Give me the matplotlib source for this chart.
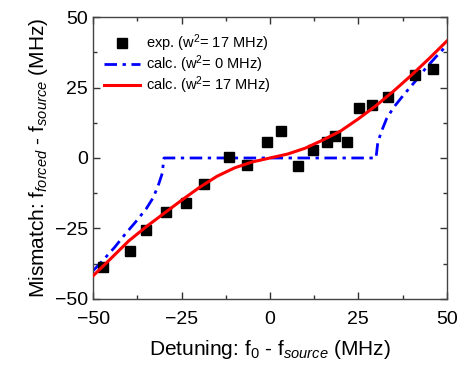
import matplotlib
matplotlib.use("Agg")
import matplotlib.pyplot as plt
from matplotlib.ticker import MultipleLocator

plt.rcParams['font.family'] = ['Liberation Sans', 'DejaVu Sans']
plt.rcParams['mathtext.fontset'] = 'custom'
plt.rcParams['mathtext.rm'] = 'Liberation Sans'
plt.rcParams['mathtext.it'] = 'Liberation Sans:italic'

# measured points (exp., w^2 = 17 MHz)
exp_x = [-47.3, -39.7, -35.0, -29.3, -23.7, -18.6, -11.6, -6.6, -0.9, 3.0,
         7.9, 12.2, 16.1, 18.4, 21.8, 25.2, 28.9, 33.4, 41.1, 46.0]
exp_y = [-38.8, -33.2, -25.5, -19.2, -16.1, -9.3, 0.4, -2.5, 5.7, 9.6,
         -2.9, 2.8, 5.7, 7.8, 5.7, 17.6, 19.0, 21.5, 29.6, 31.7]

# calc. w^2 = 0 MHz
calc0_x = [-50, -47, -44, -41, -38, -35, -33, -31.5, -30.5, -30,
           30, 30.5, 31.5, 33, 35, 38, 41, 44, 47, 50]
calc0_y = [-40, -36, -31.8, -27.1, -22.7, -18, -14, -9.3, -5.5, 0,
           0, 5.5, 9.3, 14, 18, 22.7, 27.1, 31.8, 36, 40]

# calc. w^2 = 17 MHz
calc17_x = [-50, -45, -40, -35, -30, -25, -20, -15, -10, -5, 0,
            5, 10, 15, 20, 25, 30, 35, 40, 45, 50]
calc17_y = [-41.8, -35.7, -29.5, -24.4, -19.7, -15.0, -10.5, -6.5, -3.5, -1.4, 0,
            1.4, 3.5, 6.4, 9.6, 13.9, 18.6, 23.8, 29.4, 35.3, 41.5]

fig = plt.figure(figsize=(4.63, 3.66), dpi=100)
ax = fig.add_axes([0.2015, 0.1839, 0.7633, 0.7689])

ax.plot(exp_x, exp_y, 's', color='black', ms=7.5, label='exp. (w$^2$= 17 MHz)', zorder=3)
ax.plot(calc0_x, calc0_y, color='#0000ff', lw=2.0, linestyle=(0, (4.5, 2, 1.2, 2)),
        label='calc. (w$^2$= 0 MHz)', zorder=2)
ax.plot(calc17_x, calc17_y, color='#ff0000', lw=2.2, label='calc. (w$^2$= 17 MHz)', zorder=4)

ax.set_xlim(-50, 50)
ax.set_ylim(-50, 50)
ax.xaxis.set_major_locator(MultipleLocator(25))
ax.yaxis.set_major_locator(MultipleLocator(25))
ax.xaxis.set_minor_locator(MultipleLocator(12.5))
ax.yaxis.set_minor_locator(MultipleLocator(12.5))
ax.tick_params(which='both', direction='in', top=True, right=True, colors='#333333',
               labelcolor='black', labelsize=14)
ax.tick_params(which='major', length=5, width=1)
ax.tick_params(which='minor', length=3, width=1)
ax.tick_params(axis='x', pad=9)
ax.tick_params(axis='y', pad=4)
for s in ax.spines.values():
    s.set_color('#444444')
    s.set_linewidth(1.0)

ax.set_xlabel(r'Detuning: f$_0$ - f$_{\it source}$ (MHz)', fontsize=15, labelpad=7)
ax.set_ylabel(r'Mismatch: f$_{\it forced}$ - f$_{\it source}$ (MHz)', fontsize=15, labelpad=3)

ax.legend(loc='upper left', bbox_to_anchor=(0, 0.982), frameon=False, fontsize=10.5,
          numpoints=1, handlelength=2.5, handletextpad=0.4, labelspacing=-0.03,
          borderaxespad=0.3, borderpad=0.4)

fig.savefig('out.png', dpi=100)
